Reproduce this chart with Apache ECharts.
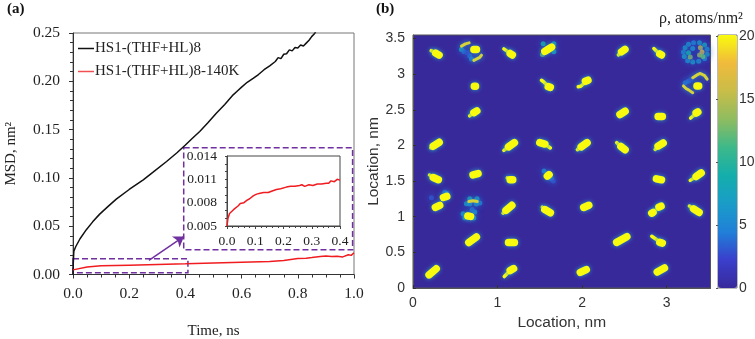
<!DOCTYPE html>
<html>
<head>
<meta charset="utf-8">
<style>
html, body { margin: 0; padding: 0; background: #fff; }
#chart { width: 755px; height: 339px; }
</style>
<script src="https://cdn.jsdelivr.net/npm/echarts@6/dist/echarts.min.js"></script>
</head>
<body>
<div id="chart"></div>
<script>
// panel (a)
const blackTime = [0, .001, .003, .01, .025, .0475, .07, .095, .125, .154, .2, .25, .285, .333, .37, .4, .425, .451, .48, .51, .54, .57, .585, .6, .62, .641, .66, .68, .7, .72, .73, .74, .75, .76, .77, .78, .79, .8, .81, .82, .83, .84, .85, .86, .87];
const blackMsd = [0, .012, .024, .029, .037, .0464, .0545, .0625, .0705, .078, .088, .098, .106, .117, .126, .134, .141, .148, .157, .167, .176, .186, .19, .194, .199, .203, .207, .212, .216, .2205, .2245, .2235, .228, .2285, .2325, .2315, .235, .2345, .2375, .2365, .2395, .2425, .2465, .2495, .2545];
const redTime = [0, .005, .05, .1, .2, .3, .4, .5, .6, .7, .75, .8, .83, .85, .88, .9, .92, .94, .96, .98, .99, 1];
const redMsd = [.0048, .0062, .0078, .009, .0097, .0104, .0111, .012, .0128, .0135, .0145, .0165, .0168, .0175, .0186, .0192, .0187, .0188, .0182, .0204, .0198, .0225];
const insetTime = [0, .002, .0035, .009, .016, .023, .03, .04, .047, .06, .07, .08, .094, .105, .117, .13, .146, .16, .175, .19, .21, .225, .24, .257, .265, .275, .29, .304, .32, .335, .351, .36, .368, .38, .39, .4];
const insetMsd = [.005, .0056, .006, .0066, .0068, .0071, .0073, .0076, .0079, .008, .0083, .0085, .0089, .0091, .0092, .0093, .0093, .0095, .0097, .0098, .01, .0101, .0101, .0102, .0103, .0101, .0103, .0102, .0104, .0104, .0105, .0105, .0108, .0107, .011, .0109];
const msdTicks = [.005, .008, .011, .014];

// panel (b), density spots as runs of [x nm, y nm]
const coreBlobs = [
  [[.269, 3.296], [.308, 3.268]], [[.72, 3.347], [.751, 3.347]], [[1.15, 3.29], [1.175, 3.27]],
  [[1.56, 3.32], [1.6, 3.35], [1.64, 3.38]], [[2.468, 3.315], [2.508, 3.347]], [[2.92, 3.285], [2.94, 3.27]],
  [[.725, 2.831], [.74, 2.831]], [[1.6, 2.825], [1.625, 2.815]], [[2.04, 2.9], [2.07, 2.915]],
  [[3.36, 2.835], [3.38, 2.835]], [[.72, 2.46], [.755, 2.485]], [[2.449, 2.435], [2.51, 2.48]],
  [[2.9, 2.407], [2.95, 2.407]], [[3.35, 2.455], [3.37, 2.47]], [[.24, 1.99], [.31, 2.045]],
  [[1.13, 1.98], [1.2, 2.04]], [[1.5, 2.04], [1.56, 2.02]], [[1.99, 1.98], [2.06, 2.04]],
  [[2.46, 1.985], [2.51, 1.94]], [[2.9, 1.99], [2.96, 2.035]], [[.24, 1.55], [.3, 1.52]],
  [[.71, 1.588], [.77, 1.606]], [[1.15, 1.52], [1.18, 1.52]], [[1.59, 1.57], [1.61, 1.59]],
  [[2.88, 1.532], [2.94, 1.518]], [[3.35, 1.564], [3.41, 1.615]], [[.36, 1.27], [.4, 1.285]],
  [[.265, 1.131], [.316, 1.159]], [[1.1, 1.09], [1.17, 1.16]], [[1.56, 1.1], [1.625, 1.055]],
  [[2.02, 1.13], [2.08, 1.16]], [[2.825, 1.05], [2.84, 1.06]], [[2.91, 1.135], [2.935, 1.148]],
  [[3.32, 1.11], [3.385, 1.06]], [[.66, .638], [.75, .717]], [[1.13, .638], [1.2, .638]],
  [[2.41, .64], [2.53, .72]], [[2.92, .64], [2.95, .63]], [[.19, .185], [.275, .27]],
  [[1.15, .245], [1.19, .272]], [[1.98, .22], [2.05, .258]], [[2.89, .225], [2.975, .28]],
  [[.65, 1.01], [.68, 1.005]]
];
const tailBlobs = [
  [[.215, 3.33], [.27, 3.3]], [[1.075, 3.355], [1.13, 3.31]], [[2.43, 3.27], [2.47, 3.31]],
  [[2.85, 3.36], [2.91, 3.29]], [[1.52, 2.915], [1.545, 2.895], [1.6, 2.83]], [[1.955, 2.825], [1.985, 2.83], [2.05, 2.9]],
  [[.67, 2.415], [.73, 2.47]], [[3.285, 2.385], [3.305, 2.4], [3.36, 2.46]], [[.21, 1.965], [.25, 1.99]],
  [[1.075, 1.93], [1.14, 1.99]], [[1.56, 2.02], [1.625, 1.965]], [[1.945, 1.94], [2.0, 1.99]],
  [[2.41, 2.04], [2.46, 1.985]], [[2.865, 1.945], [2.91, 1.99]], [[.195, 1.585], [.25, 1.55]],
  [[1.115, 1.545], [1.16, 1.52]], [[3.28, 1.51], [3.36, 1.57]], [[1.065, 1.05], [1.11, 1.1]],
  [[1.53, 1.135], [1.58, 1.09]], [[2.83, 1.055], [2.925, 1.14]], [[3.27, 1.15], [3.33, 1.1]],
  [[2.825, .726], [2.84, .718], [2.93, .64]], [[1.08, .16], [1.15, .245]]
];
const arcBlobs = [
  [[.573, 3.394], [.621, 3.426], [.664, 3.44]], [[.81, 3.268], [.79, 3.235], [.77, 3.208], [.72, 3.194]],
  [[3.31, 2.95], [3.36, 2.99], [3.4, 3.01], [3.45, 2.98], [3.48, 2.93]], [[3.2, 2.835], [3.23, 2.8], [3.26, 2.78], [3.31, 2.74]],
  [[.66, 1.215], [.711, 1.225], [.76, 1.215]], [[.62, 1.01], [.664, 1.0], [.71, 1.01]]
];
const diffuseSpots = [
  // ring top right
  [3.2, 3.31, 6], [3.22, 3.37, 7], [3.26, 3.42, 6], [3.32, 3.44, 5], [3.39, 3.44, 7], [3.45, 3.41, 8], [3.48, 3.35, 6],
  [3.48, 3.28, 7], [3.45, 3.22, 6], [3.38, 3.18, 6], [3.31, 3.17, 7], [3.25, 3.19, 6], [3.21, 3.25, 7],
  [3.4, 3.37, 15], [3.42, 3.31, 17], [3.39, 3.27, 14], [3.43, 3.25, 12], [3.28, 3.24, 13], [3.26, 3.3, 9], [3.31, 3.36, 6],
  // ring below it
  [3.26, 2.9, 4], [3.22, 2.88, 4], [3.29, 2.93, 3],
  // ring top left
  [.573, 3.347, 8], [.6, 3.32, 4], [.672, 3.254, 4], [.692, 3.212, 5], [.64, 3.3, 3],
  // X arms
  [1.54, 3.427, 9], [1.667, 3.427, 8], [1.532, 3.277, 12], [1.667, 3.315, 7], [1.64, 1.53, 4], [1.55, 1.64, 5], [1.66, 1.5, 3],
  // ring at left middle
  [.632, 1.183, 7], [.79, 1.191, 5], [.672, 1.253, 8], [.758, 1.253, 7], [.75, 1.18, 6], [.67, 1.18, 6],
  [.592, 1.043, 7], [.731, 1.066, 6], [.613, .987, 7], [.719, .982, 7], [.7, 1.1, 4],
  [.218, 1.267, 3], [.376, 1.345, 4], [.4, 1.33, 5]
];

const rhoStops = ['#38299b', '#3a3fcc', '#2080d8', '#1a9cc8', '#14aeac', '#3db88a', '#8fbc60', '#c8bd48', '#f0ba3c', '#f9fb0e'];

const serif = 'Liberation Serif';
const sans = 'Liberation Sans';

const zip = (a, b) => a.map((v, i) => [v, b[i]]);
const withGaps = (runs) => runs.flatMap(r => [...r, ['-', '-']]);

const blobSeries = (name, runs, width, color, glow) => ({
    name, type: 'line', xAxisIndex: 2, yAxisIndex: 2,
    data: withGaps(runs), showSymbol: false, connectNulls: false,
    lineStyle: { color, width, cap: 'round', join: 'round', shadowBlur: glow, shadowColor: '#2aa0c8' }
});

const option = {
    animation: false,
    title: [
        { text: '(a)', left: 7, top: 2, padding: 0, textStyle: { fontFamily: serif, fontSize: 15, fontWeight: 'bold', color: '#111' } },
        { text: '(b)', left: 376, top: 2, padding: 0, textStyle: { fontFamily: serif, fontSize: 15, fontWeight: 'bold', color: '#111' } },
        { text: 'ρ, atoms/nm²', left: 659, top: 11, padding: 0, textStyle: { fontFamily: serif, fontSize: 16, fontWeight: 'normal', color: '#222' } }
    ],
    legend: {
        data: ['HS1-(THF+HL)8', 'HS1-(THF+HL)8-140K'],
        orient: 'vertical',
        left: 78,
        top: 41,
        padding: 0,
        itemGap: 8,
        itemWidth: 16,
        itemHeight: 1.5,
        icon: 'rect',
        textStyle: { fontFamily: serif, fontSize: 15, color: '#222', padding: [0, 0, 0, -4] }
    },
    grid: [
        { left: 73, top: 33, width: 281, height: 241.5, outerBoundsMode: 'none', show: true, borderColor: '#777', borderWidth: 1 },
        { left: 227, top: 156, width: 113, height: 70, outerBoundsMode: 'none', show: true, borderColor: '#444', borderWidth: 1, backgroundColor: '#fff', z: 5 },
        { left: 413, top: 35, width: 297.5, height: 253, outerBoundsMode: 'none', show: true, borderColor: '#555', borderWidth: 1, backgroundColor: rhoStops[0] },
        { left: 718, top: 35, width: 19, height: 253, outerBoundsMode: 'none', show: true, borderColor: '#777', borderWidth: 1 }
    ],
    xAxis: [
        {
            gridIndex: 0, type: 'value', min: 0, max: 1, interval: 0.2,
            name: 'Time, ns', nameLocation: 'middle', nameGap: 49,
            nameTextStyle: { fontFamily: serif, fontSize: 15, color: '#222' },
            axisLine: { lineStyle: { color: '#333' } },
            axisTick: { length: 4, lineStyle: { color: '#333' } },
            minorTick: { show: true, splitNumber: 4, length: 3, lineStyle: { color: '#333' } },
            splitLine: { show: false },
            axisLabel: { fontFamily: serif, fontSize: 15.5, color: '#222', margin: 11, formatter: v => v.toFixed(1) }
        },
        {
            gridIndex: 1, type: 'value', min: 0, max: 0.4, interval: 0.1, z: 6,
            axisLine: { lineStyle: { color: '#444' } },
            axisTick: { length: 3, lineStyle: { color: '#444' } },
            minorTick: { show: true, splitNumber: 5, length: 2, lineStyle: { color: '#444' } },
            splitLine: { show: false },
            axisLabel: { fontFamily: serif, fontSize: 13.5, color: '#222', margin: 8, formatter: v => v.toFixed(1) }
        },
        {
            gridIndex: 2, type: 'value', min: 0, max: 3.52, interval: 1,
            name: 'Location, nm', nameLocation: 'middle', nameGap: 27,
            nameTextStyle: { fontFamily: sans, fontSize: 15.5, color: '#333' },
            axisLine: { lineStyle: { color: '#555' } },
            axisTick: { inside: true, length: 3, lineStyle: { color: '#333' } },
            splitLine: { show: false },
            axisLabel: { fontFamily: sans, fontSize: 14, color: '#333', margin: 8, showMaxLabel: false }
        },
        { gridIndex: 3, type: 'value', min: 0, max: 1, show: false }
    ],
    yAxis: [
        {
            gridIndex: 0, type: 'value', min: 0, max: 0.25, interval: 0.05,
            name: 'MSD, nm²', nameLocation: 'middle', nameGap: 54,
            nameTextStyle: { fontFamily: serif, fontSize: 15, color: '#222' },
            axisLine: { show: true, lineStyle: { color: '#333' } },
            axisTick: { show: true, length: 4, lineStyle: { color: '#333' } },
            minorTick: { show: true, splitNumber: 5, length: 3, lineStyle: { color: '#333' } },
            splitLine: { show: false },
            axisLabel: { fontFamily: serif, fontSize: 15.5, color: '#222', margin: 13, formatter: v => v.toFixed(2) }
        },
        {
            gridIndex: 1, type: 'value', min: 0.005, max: 0.014, interval: 0.001, z: 6,
            axisLine: { show: true, lineStyle: { color: '#444' } },
            axisTick: { show: true, length: 2, lineStyle: { color: '#444' } },
            splitLine: { show: false },
            axisLabel: { customValues: msdTicks, fontFamily: serif, fontSize: 13.5, color: '#222', margin: 10, formatter: v => v.toFixed(3) }
        },
        {
            gridIndex: 2, type: 'value', min: 0, max: 3.55, interval: 0.5,
            name: 'Location, nm', nameLocation: 'middle', nameGap: 22,
            nameTextStyle: { fontFamily: sans, fontSize: 15.5, color: '#333' },
            axisLine: { show: true, lineStyle: { color: '#555' } },
            axisTick: { show: true, inside: true, length: 3, lineStyle: { color: '#333' } },
            splitLine: { show: false },
            axisLabel: { fontFamily: sans, fontSize: 14, color: '#333', margin: 8, showMaxLabel: false }
        },
        {
            gridIndex: 3, type: 'value', min: 0, max: 20.1, interval: 5, position: 'right',
            axisLine: { show: false },
            axisTick: { show: true, inside: true, length: 2, lineStyle: { color: '#555' } },
            splitLine: { show: false },
            axisLabel: { fontFamily: sans, fontSize: 14, color: '#333', margin: 2, showMaxLabel: false }
        }
    ],
    visualMap: {
        type: 'continuous',
        seriesIndex: 3,
        dimension: 2,
        min: 0,
        max: 20,
        left: 718,
        top: 35,
        padding: 0,
        itemWidth: 19,
        itemHeight: 253,
        calculable: false,
        hoverLink: false,
        text: null,
        inRange: { color: rhoStops }
    },
    series: [
        {
            name: 'HS1-(THF+HL)8', type: 'line', xAxisIndex: 0, yAxisIndex: 0,
            data: zip(blackTime, blackMsd), showSymbol: false,
            lineStyle: { color: '#111', width: 1.5 }, itemStyle: { color: '#111' }
        },
        {
            name: 'HS1-(THF+HL)8-140K', type: 'line', xAxisIndex: 0, yAxisIndex: 0,
            data: zip(redTime, redMsd), showSymbol: false,
            lineStyle: { color: '#f01c20', width: 1.5 }, itemStyle: { color: '#f25050' },
            markArea: {
                silent: true,
                itemStyle: { color: 'rgba(0,0,0,0)', borderColor: '#7030a0', borderWidth: 1.5, borderType: 'dashed' },
                data: [
                    [{ coord: [0, .0163] }, { coord: [.409, .0018] }],
                    [{ coord: [.394, .1312] }, { coord: [.995, .0256] }]
                ]
            },
            markLine: {
                silent: true,
                symbol: ['none', 'arrow'],
                symbolSize: 10,
                label: { show: false },
                lineStyle: { color: '#7030a0', width: 1.5, type: 'solid' },
                data: [[{ coord: [.27, .0145] }, { coord: [.395, .0394] }]]
            }
        },
        {
            name: 'inset', type: 'line', xAxisIndex: 1, yAxisIndex: 1, z: 7,
            data: zip(insetTime, insetMsd), showSymbol: false,
            lineStyle: { color: '#f01c20', width: 1.5 }
        },
        {
            name: 'diffuse', type: 'scatter', xAxisIndex: 2, yAxisIndex: 2,
            data: diffuseSpots, symbolSize: 5,
            itemStyle: { opacity: 0.8, shadowBlur: 6, shadowColor: '#2f6fd8' }
        },
        blobSeries('arc', arcBlobs, 3, '#d6d23a', 5),
        blobSeries('tail', tailBlobs, 3.5, '#f9fb0e', 4),
        blobSeries('core', coreBlobs, 7.5, '#f9fb0e', 4)
    ]
};

const chart = echarts.init(document.getElementById('chart'));
chart.setOption(option);
window.addEventListener('resize', () => chart.resize());
</script>
</body>
</html>
